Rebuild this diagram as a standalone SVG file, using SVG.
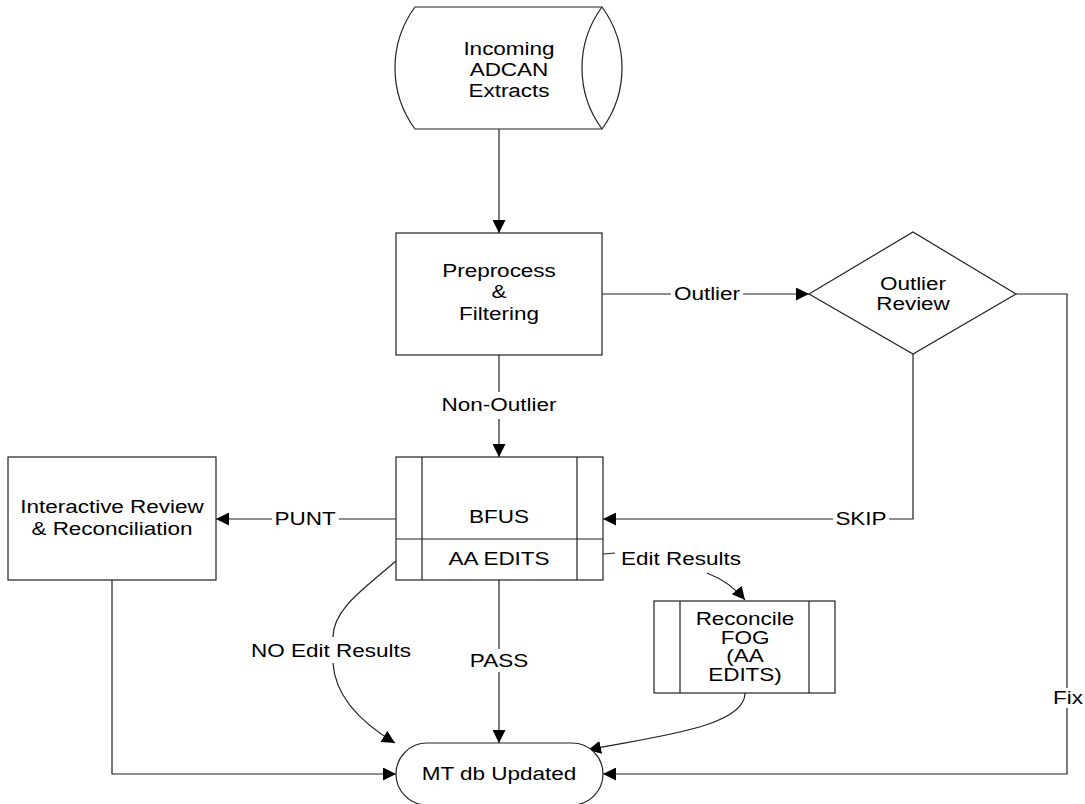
<svg xmlns="http://www.w3.org/2000/svg" width="1085" height="804" viewBox="0 0 1085 804">
<style>
.shape{fill:#fff;stroke:#222;stroke-width:1.2}
.ln{fill:none;stroke:#222;stroke-width:1.2}
.arr{marker-end:url(#ah)}
text{font-family:"Liberation Sans",Arial,sans-serif;font-size:18px;fill:#000;text-anchor:middle}
</style>
<defs>
<marker id="ah" markerUnits="userSpaceOnUse" markerWidth="14" markerHeight="13" refX="13" refY="6.5" orient="auto">
<path d="M0,0 L13,6.5 L0,13 z" fill="#000"/>
</marker>
</defs>
<rect width="1085" height="804" fill="#fff"/>

<g id="connectors">
<path class="ln arr" d="M499,129 L499,233"/>
<path class="ln" d="M602,294 L671,294"/>
<path class="ln arr" d="M743,294 L809,294"/>
<path class="ln" d="M499,355 L499,392"/>
<path class="ln arr" d="M499,419 L499,457"/>
<path class="ln" d="M396,519 L339,519"/>
<path class="ln arr" d="M272,519 L216,519"/>
<path class="ln" d="M913,354 L913,519 L889,519"/>
<path class="ln arr" d="M833,519 L603,519"/>
<path class="ln" d="M603,554 L615,553"/>
<path class="ln arr" d="M707,573 Q730,582 745,600"/>
<path class="ln" d="M396,561 C362,590 333,610 333,637"/>
<path class="ln arr" d="M333,663 C335,695 360,722 395,743"/>
<path class="ln" d="M499,580 L499,649"/>
<path class="ln arr" d="M499,672 L499,743"/>
<path class="ln arr" d="M745,693 C745,728 650,737 588,750"/>
<path class="ln arr" d="M112,580 L112,774 L396,774"/>
<path class="ln" d="M1016,294 L1067,294 L1067,688"/>
<path class="ln arr" d="M1067,708 L1067,774 L603,774"/>
<text transform="translate(707 300) scale(1.25 1)">Outlier</text>
<text transform="translate(499 411) scale(1.25 1)">Non-Outlier</text>
<text transform="translate(305 525) scale(1.25 1)">PUNT</text>
<text transform="translate(861 525) scale(1.25 1)">SKIP</text>
<text transform="translate(681 565) scale(1.25 1)">Edit Results</text>
<text transform="translate(331 657) scale(1.25 1)">NO Edit Results</text>
<text transform="translate(499 667) scale(1.25 1)">PASS</text>
<text transform="translate(1068 704) scale(1.25 1)">Fix</text>
</g>

<g id="incoming">
<path class="shape" d="M415,7 L602,7 A103,103 0 0 1 602,129 L415,129 A103,103 0 0 1 415,7 Z"/>
<path class="ln" d="M602,7 A103,103 0 0 0 602,129"/>
<text transform="translate(509 55) scale(1.25 1)">Incoming</text>
<text transform="translate(509 76) scale(1.25 1)">ADCAN</text>
<text transform="translate(509 97) scale(1.25 1)">Extracts</text>
</g>

<g id="preprocess">
<rect class="shape" x="396" y="233" width="206" height="122"/>
<text transform="translate(499 277) scale(1.25 1)">Preprocess</text>
<text transform="translate(499 298) scale(1.25 1)">&amp;</text>
<text transform="translate(499 320) scale(1.25 1)">Filtering</text>
</g>

<g id="outlier-review">
<polygon class="shape" points="809,294 913,232 1016,294 913,354"/>
<text transform="translate(913 290) scale(1.25 1)">Outlier</text>
<text transform="translate(913 310) scale(1.25 1)">Review</text>
</g>

<g id="interactive-review">
<rect class="shape" x="8" y="457" width="208" height="123"/>
<text transform="translate(112 513) scale(1.25 1)">Interactive Review</text>
<text transform="translate(112 535) scale(1.25 1)">&amp; Reconciliation</text>
</g>

<g id="bfus">
<rect class="shape" x="396" y="457" width="207" height="123"/>
<path class="ln" d="M422,457 L422,580 M577,457 L577,580 M396,539 L603,539"/>
<text transform="translate(499 523) scale(1.25 1)">BFUS</text>
<text transform="translate(499 565) scale(1.25 1)">AA EDITS</text>
</g>

<g id="reconcile-fog">
<rect class="shape" x="654" y="601" width="181" height="92"/>
<path class="ln" d="M680,601 L680,693 M809,601 L809,693"/>
<text transform="translate(745 625) scale(1.25 1)">Reconcile</text>
<text transform="translate(745 643.5) scale(1.25 1)">FOG</text>
<text transform="translate(745 662) scale(1.25 1)">(AA</text>
<text transform="translate(745 680.5) scale(1.25 1)">EDITS)</text>
</g>

<g id="mt-db-updated">
<rect class="shape" x="396" y="743" width="207" height="62" rx="31" ry="31"/>
<text transform="translate(499 780) scale(1.25 1)">MT db Updated</text>
</g>
</svg>
